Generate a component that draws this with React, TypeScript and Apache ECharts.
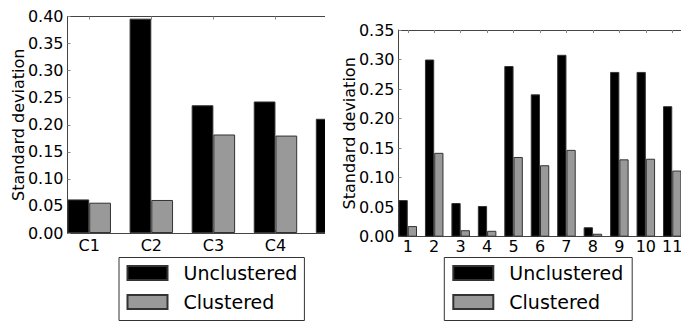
import React, { useEffect, useRef } from 'react';
import * as echarts from 'echarts';

const leftCategories = ['C1', 'C2', 'C3', 'C4', 'C5'];
const leftUnclustered = [0.062, 0.396, 0.236, 0.243, 0.211];
const leftClustered = [0.056, 0.061, 0.182, 0.18, 0.15];
const leftYMax = 0.4;

const rightCategories = ['1', '2', '3', '4', '5', '6', '7', '8', '9', '10', '11'];
const rightUnclustered = [0.062, 0.3, 0.057, 0.052, 0.289, 0.241, 0.308, 0.016, 0.279, 0.279, 0.221];
const rightClustered = [0.018, 0.142, 0.011, 0.01, 0.135, 0.121, 0.147, 0.005, 0.131, 0.132, 0.112];
const rightYMax = 0.35;

const yInterval = 0.05;
const seriesNames = ['Unclustered', 'Clustered'];
const FONT = 'DejaVu Sans';
const BAR = 0.35;

type Panel = {
  cats: string[]; a: number[]; b: number[]; yMax: number;
  left: number; top: number; unit: number; height: number; labelMargin: number;
  legendLeft: number; legendPad: number[]; visibleWidth: number;
};

function buildOption(p: Panel) {
  const axisColor = '#444';
  const tickColor = '#888';
  const xMax = p.cats.length;
  const width = p.unit * xMax;
  const tickPos = p.cats.map((_, i) => i + BAR);
  const visibleMax = (p.visibleWidth - p.left) / p.unit;
  const labelPos = tickPos.filter((v) => v < visibleMax);
  const fmt = (v: number) => p.cats[Math.round(v - BAR)] ?? '';
  const bw = BAR * p.unit;
  const mk = (vals: number[], name: string, color: string) => ({
    type: 'bar', name, xAxisIndex: 0, yAxisIndex: 0,
    data: vals.map((v, i) => [i + BAR, v]),
    barWidth: bw, barGap: '0%',
    itemStyle: { color, borderColor: '#333', borderWidth: 1 },
  });
  return {
    animation: false,
    backgroundColor: '#fff',
    grid: { left: p.left, top: p.top, width, height: p.height, containLabel: false, outerBoundsMode: 'none' },
    xAxis: [
      {
        type: 'value', min: 0, max: xMax, position: 'bottom',
        axisLine: { show: true, lineStyle: { color: axisColor, width: 1 } },
        axisTick: { show: true, inside: true, length: 3, customValues: tickPos, lineStyle: { color: tickColor } },
        axisLabel: { show: true, customValues: labelPos, formatter: fmt, fontSize: 16, fontFamily: FONT, color: '#000', margin: p.labelMargin },
        splitLine: { show: false },
      },
      {
        type: 'value', min: 0, max: xMax, position: 'top',
        axisLine: { show: true, lineStyle: { color: axisColor, width: 1 } },
        axisTick: { show: true, inside: true, length: 3, customValues: tickPos, lineStyle: { color: tickColor } },
        axisLabel: { show: false },
        splitLine: { show: false },
      },
    ],
    yAxis: {
      type: 'value', min: 0, max: p.yMax, interval: yInterval,
      axisLine: { show: true, lineStyle: { color: axisColor, width: 1 } },
      axisTick: { show: true, inside: true, length: 3, lineStyle: { color: tickColor } },
      axisLabel: { formatter: (v: number) => v.toFixed(2), fontSize: 16, fontFamily: FONT, color: '#000', margin: 4 },
      splitLine: { show: false },
      name: 'Standard deviation', nameLocation: 'middle', nameGap: 41, nameMoveOverlap: false,
      nameTextStyle: { fontSize: 16, fontFamily: FONT, color: '#000' },
    },
    series: [mk(p.a, seriesNames[0], '#000000'), mk(p.b, seriesNames[1], '#999999')],
    legend: {
      orient: 'vertical', icon: 'rect', itemWidth: 40, itemHeight: 14, itemGap: 10,
      data: seriesNames, borderColor: '#333', borderWidth: 1, backgroundColor: '#fff',
      textStyle: { fontSize: 19, fontFamily: FONT, color: '#000', padding: [0, 0, 0, 11] },
      selectedMode: false,
      left: p.legendLeft, top: 257.5, padding: p.legendPad,
    },
  };
}

const LEFT_W = 325;

export default function App() {
  const leftRef = useRef<HTMLDivElement>(null);
  const rightRef = useRef<HTMLDivElement>(null);
  useEffect(() => {
    const c1 = echarts.init(leftRef.current!, null, { renderer: 'svg' });
    const c2 = echarts.init(rightRef.current!, null, { renderer: 'svg' });
    c1.setOption(buildOption({
      cats: leftCategories, a: leftUnclustered, b: leftClustered, yMax: leftYMax,
      left: 67.5, top: 16.5, unit: 62.08, height: 216.5, labelMargin: 4,
      legendLeft: 119, legendPad: [6, 7, 9, 7.5], visibleWidth: LEFT_W,
    }));
    c2.setOption(buildOption({
      cats: rightCategories, a: rightUnclustered, b: rightClustered, yMax: rightYMax,
      left: 398.5 - LEFT_W, top: 30, unit: 26.45, height: 206.7, labelMargin: 2,
      legendLeft: 444.3 - LEFT_W, legendPad: [6, 9, 9, 8], visibleWidth: 681 - LEFT_W,
    }));
    return () => { c1.dispose(); c2.dispose(); };
  }, []);
  return (
    <div style={{ position: 'fixed', left: 0, top: 0, width: 681, height: 322, background: '#fff' }}>
      <div ref={leftRef} style={{ position: 'absolute', left: 0, top: 0, width: LEFT_W, height: 322, overflow: 'hidden' }} />
      <div ref={rightRef} style={{ position: 'absolute', left: LEFT_W, top: 0, width: 681 - LEFT_W, height: 322, overflow: 'hidden' }} />
    </div>
  );
}
